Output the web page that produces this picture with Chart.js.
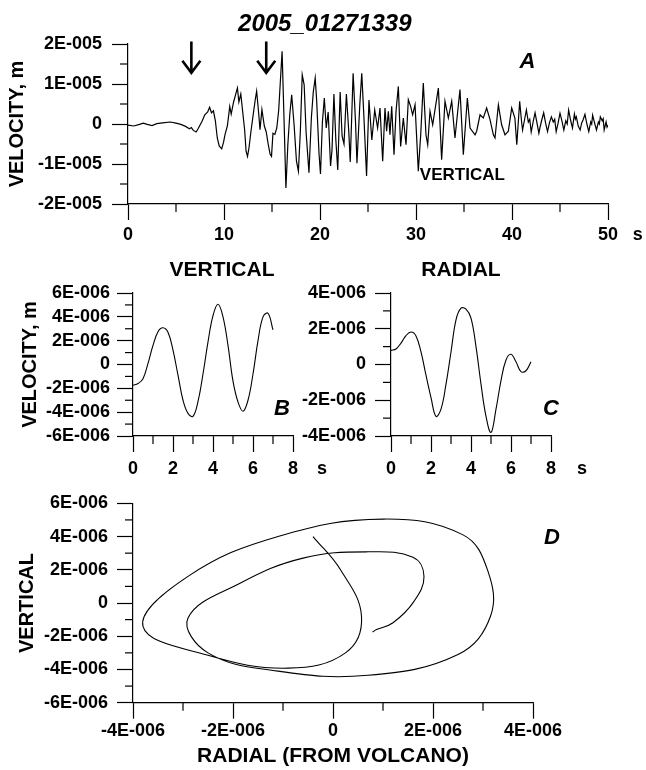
<!DOCTYPE html>
<html>
<head>
<meta charset="utf-8">
<script src="https://cdn.jsdelivr.net/npm/chart.js@4.4.1/dist/chart.umd.min.js"></script>
<style>
  body { margin: 0; background: #fff; }
  #wrap { position: relative; width: 646px; height: 770px; }
  #wrap canvas { position: absolute; left: 0; top: 0; }
</style>
</head>
<body>
<div id="wrap">
  <canvas id="chartA" width="646" height="770"></canvas>
  <canvas id="chartB" width="646" height="770"></canvas>
  <canvas id="chartC" width="646" height="770"></canvas>
  <canvas id="chartD" width="646" height="770"></canvas>
</div>
<script>
// Amplitudes are kept in units of 1E-006 m/s; fmtE() writes the axis labels
const FONT = '"Liberation Sans", Arial, Helvetica, sans-serif';

// A: vertical record, 0-50 s
const timeA = [
  0.0, 0.6, 1.2, 1.6, 2.0, 2.5, 3.0, 3.6, 4.4, 5.0,
  5.5, 6.0, 6.4, 6.6, 6.8, 7.1, 7.3, 7.7, 8.0, 8.3,
  8.5, 8.7, 8.9, 9.1, 9.3, 9.5, 9.76, 9.95, 10.1, 10.35,
  10.6, 10.75, 11.0, 11.2, 11.4, 11.55, 11.75, 11.95, 12.15, 12.3,
  12.45, 12.6, 12.8, 13.05, 13.25, 13.4, 13.6, 13.75, 13.95, 14.2,
  14.4, 14.6, 14.8, 14.95, 15.1, 15.3, 15.5, 15.7, 15.85, 16.05,
  16.25, 16.45, 16.65, 16.85, 17.05, 17.3, 17.55, 17.75, 17.95, 18.15,
  18.35, 18.55, 18.85, 19.1, 19.3, 19.5, 19.65, 19.9, 20.05, 20.25,
  20.45, 20.65, 20.85, 21.1, 21.25, 21.45, 21.65, 21.85, 22.1, 22.3,
  22.5, 22.75, 23.0, 23.15, 23.45, 23.7, 23.85, 24.15, 24.35, 24.55,
  24.85, 25.1, 25.4, 25.7, 26.0, 26.25, 26.53, 26.77, 26.94, 27.12,
  27.29, 27.47, 27.71, 27.92, 28.16, 28.4, 28.68, 28.96, 29.2, 29.44,
  29.65, 29.9, 30.24, 30.49, 30.76, 31.04, 31.22, 31.46, 31.74, 31.98,
  32.33, 32.67, 33.02, 33.37, 33.72, 34.06, 34.58, 34.93, 35.35, 35.63,
  36.15, 36.32, 36.67, 37.01, 37.36, 37.71, 38.06, 38.23, 38.58, 38.92,
  39.27, 39.62, 39.97, 40.3, 40.5, 40.8, 41.0, 41.1, 41.3, 41.5,
  41.7, 41.85, 42.0, 42.2, 42.4, 42.6, 42.8, 42.95, 43.1, 43.3,
  43.5, 43.7, 43.9, 44.1, 44.3, 44.45, 44.6, 44.8, 45.0, 45.2,
  45.4, 45.6, 45.75, 45.9, 46.1, 46.3, 46.5, 46.6, 46.7, 46.9,
  47.1, 47.25, 47.4, 47.6, 47.8, 48.0, 48.2, 48.3, 48.4, 48.6,
  48.8, 49.0, 49.1, 49.2, 49.4, 49.5, 49.6, 49.8, 49.9, 50.0
];
const velA = [
  -0.3, -0.5, -0.1, 0.2, -0.1, -0.4, 0.1, 0.3, 0.5, 0.2,
  -0.1, -0.6, -1.2, -0.9, -1.6, -2.0, -1.2, 0.6, 2.3, 3.0,
  4.2, 2.8, 3.3, 0.8, -3.5, -5.5, -6.2, -4.6, -2.7, -0.5,
  4.4, 2.5, 5.5, 7.3, 9.0, 5.5, 7.5, 3.0, -1.5, -6.8,
  -8.1, -6.0, -2.0, 2.5, 6.0, 8.2, 3.0, -1.4, 3.6, -0.5,
  -2.0, -5.0, -7.5, -8.1, -2.3, -2.6, -1.0, 3.5, 9.8, 18.2,
  1.5, -16.0, -5.2, 2.3, 7.3, -0.2, -9.3, -11.8, -2.0, 12.3,
  9.8, -2.0, -12.2, 1.5, 8.0, 11.5, 6.0, -7.5, -12.5, 0.5,
  6.5, -1.0, 3.0, -10.5, -6.5, 7.5, -4.0, -11.5, 8.0, -3.0,
  -5.0, 7.5, -2.0, -9.5, 12.7, 0.5, -9.8, 5.0, 12.7, 3.0,
  -13.0, 6.0, -4.0, 3.5, -1.0, 4.0, -9.3, 4.0, -1.8, 3.2,
  -2.7, 4.4, -7.7, 3.2, 9.4, -5.6, 1.5, -5.2, 6.1, 4.4,
  2.3, 4.8, -11.8, -2.7, 10.25, -2.7, -5.2, 3.2, -0.2, 3.6,
  9.0, -8.9, 5.7, 1.5, 5.7, -3.5, 8.6, -7.7, 6.5, -1.0,
  -2.7, -1.8, 2.3, 1.5, 4.0, 1.1, -2.7, -3.5, 4.8, -0.2,
  -2.7, -1.8, 4.0, 1.5, -5.2, 5.7, 0.5, -1.5, 1.0, 3.5,
  0.5, 1.2, -2.0, 0.5, 2.8, 0.3, -2.3, -0.5, 1.0, 2.8,
  0.2, -1.9, 0.3, 1.8, 0.5, 1.2, -1.9, 0.2, 2.7, 0.8,
  -1.5, 0.8, 0.0, 3.5, 1.0, -1.0, 2.5, 1.2, 1.8, -0.5,
  -1.5, 0.2, 1.0, 2.4, 0.0, -1.9, 0.5, 0.0, 2.2, 0.3,
  -1.5, 0.5, 0.0, 1.8, 0.8, 1.3, -1.5, 0.5, -0.8, -0.3
];
const arrowTimes = [6.6, 14.4];

// B and C: 7 s window, every 0.25 s
const timeBC = [
  0, 0.25, 0.5, 0.75, 1.0, 1.25, 1.5, 1.75, 2.0, 2.25,
  2.5, 2.75, 3.0, 3.25, 3.5, 3.75, 4.0, 4.25, 4.5, 4.75,
  5.0, 5.25, 5.5, 5.75, 6.0, 6.25, 6.5, 6.75, 7.0
];
const vertB = [
  -1.75, -1.6, -1.19, 0.1, 1.6, 2.75, 3.08, 2.7, 1.2, -0.9,
  -3.0, -4.1, -4.35, -3.1, -0.8, 1.9, 4.1, 5.05, 4.0, 1.6,
  -1.4, -3.15, -3.92, -3.0, -0.8, 2.0, 4.0, 4.3, 2.9
];
const radC = [
  0.79, 0.87, 1.2, 1.62, 1.82, 1.6, 0.7, -0.6, -1.85, -2.9,
  -2.5, -1.1, 0.7, 2.5, 3.15, 3.1, 2.6, 1.0, -1.1, -2.9,
  -3.8, -2.5, -0.9, 0.25, 0.57, 0.15, -0.4, -0.35, 0.15
];
// D: particle motion uses B and C up to this time
const motionEnd = 6.5;

function fmtE(v) {
  if (Math.abs(v) < 1e-9) return '0';
  const p = Math.floor(Math.log10(Math.abs(v)) + 1e-9);
  const mant = Math.round(v / Math.pow(10, p));
  return mant + 'E-' + String(6 - p).padStart(3, '0');
}

function pts(xs, ys) {
  return xs.map((x, i) => ({ x: x, y: ys[i] }));
}

// minor ticks, arrows and free labels
const decor = {
  id: 'decor',
  afterDraw(chart, args, opts) {
    const ctx = chart.ctx;
    const xs = chart.scales.x, ys = chart.scales.y;
    const area = chart.chartArea;
    ctx.save();
    ctx.strokeStyle = '#000';
    ctx.fillStyle = '#000';
    ctx.lineWidth = 1.2;

    const isMajor = (v, step) => Math.abs(v / step - Math.round(v / step)) < 1e-6;
    if (opts.minorX) {
      for (let v = xs.min; v <= xs.max + 1e-9; v += opts.minorX) {
        if (isMajor(v, xs.options.ticks.stepSize)) continue;
        const px = xs.getPixelForValue(v);
        ctx.beginPath(); ctx.moveTo(px, area.bottom); ctx.lineTo(px, area.bottom + 8); ctx.stroke();
      }
    }
    if (opts.minorY) {
      for (let v = ys.min; v <= ys.max + 1e-9; v += opts.minorY) {
        if (isMajor(v, ys.options.ticks.stepSize)) continue;
        const py = ys.getPixelForValue(v);
        ctx.beginPath(); ctx.moveTo(area.left - 8, py); ctx.lineTo(area.left, py); ctx.stroke();
      }
    }

    (opts.arrows || []).forEach(t => {
      const px = xs.getPixelForValue(t);
      const top = ys.getPixelForValue(opts.arrowFrom);
      const tip = ys.getPixelForValue(opts.arrowTo);
      ctx.lineWidth = 2.6;
      ctx.beginPath();
      ctx.moveTo(px, top); ctx.lineTo(px, tip);
      ctx.moveTo(px - 9, tip - 12); ctx.lineTo(px, tip); ctx.lineTo(px + 9, tip - 12);
      ctx.stroke();
    });

    (opts.texts || []).forEach(t => {
      ctx.font = t.font;
      ctx.textAlign = t.align || 'center';
      ctx.textBaseline = 'middle';
      ctx.fillText(t.text, xs.getPixelForValue(t.x), ys.getPixelForValue(t.y));
    });
    ctx.restore();
  }
};

function axis(pos, min, max, step, size, pad, title, titleFont) {
  return {
    type: 'linear',
    position: pos,
    min: min,
    max: max,
    afterFit: s => { if (pos === 'left') s.width = size; else s.height = size; },
    ticks: {
      stepSize: step,
      autoSkip: false,
      maxRotation: 0,
      padding: pad,
      color: '#000',
      font: { family: FONT, size: 18, weight: 'bold' },
      callback: v => (pos === 'left' || title === 'RADIAL (FROM VOLCANO)') ? fmtE(v) : String(v)
    },
    grid: { drawOnChartArea: false, tickLength: 16, tickColor: '#000', tickWidth: 1.2 },
    border: { color: '#000', width: 1.2 },
    title: {
      display: !!title,
      text: title || '',
      color: '#000',
      padding: 0,
      font: { family: FONT, size: titleFont || 20, weight: 'bold' }
    }
  };
}

function makeChart(id, datasets, scales, padding, decorOpts) {
  return new Chart(document.getElementById(id), {
    type: 'line',
    data: { datasets: datasets },
    options: {
      responsive: false,
      animation: false,
      events: [],
      layout: { padding: padding },
      scales: scales,
      plugins: { legend: { display: false }, tooltip: { enabled: false }, decor: decorOpts }
    },
    plugins: [decor]
  });
}

const BI = 'italic bold 22px ' + FONT;

makeChart('chartA',
  [{ data: pts(timeA, velA), borderColor: '#000', borderWidth: 1.2, pointRadius: 0, tension: 0, fill: false }],
  {
    x: axis('bottom', 0, 50, 10, 40, 4),
    y: axis('left', -20, 20, 10, 123, 10, 'VELOCITY, m')
  },
  { left: 5, top: 44, right: 38, bottom: 526 },
  {
    minorX: 5, minorY: 5,
    arrows: arrowTimes, arrowFrom: 20.6, arrowTo: 12.8,
    texts: [
      { text: '2005_01271339', x: 20.5, y: 25.0, font: 'italic bold 24px ' + FONT },
      { text: 'A', x: 41.6, y: 15.6, font: BI },
      { text: 'VERTICAL', x: 30.4, y: -12.9, font: 'bold 17px ' + FONT, align: 'left' },
      { text: 's', x: 53.1, y: -27.7, font: 'bold 18px ' + FONT }
    ]
  });

makeChart('chartB',
  [{ data: pts(timeBC, vertB), borderColor: '#000', borderWidth: 1.1, pointRadius: 0, tension: 0.4, fill: false }],
  {
    x: axis('bottom', 0, 8, 2, 45, 6),
    y: axis('left', -6, 6, 2, 115, 7, 'VELOCITY, m')
  },
  { left: 18, top: 293, right: 353, bottom: 289 },
  {
    minorX: 1, minorY: 1,
    texts: [
      { text: 'VERTICAL', x: 4.45, y: 7.93, font: 'bold 21px ' + FONT },
      { text: 'B', x: 7.45, y: -3.7, font: BI },
      { text: 's', x: 9.45, y: -8.77, font: 'bold 18px ' + FONT }
    ]
  });

makeChart('chartC',
  [{ data: pts(timeBC, radC), borderColor: '#000', borderWidth: 1.1, pointRadius: 0, tension: 0.4, fill: false }],
  {
    x: axis('bottom', 0, 8, 2, 45, 6),
    y: axis('left', -4, 4, 2, 101, 9)
  },
  { left: 290, top: 293, right: 95, bottom: 289 },
  {
    minorX: 1, minorY: 1,
    texts: [
      { text: 'RADIAL', x: 3.5, y: 5.28, font: 'bold 21px ' + FONT },
      { text: 'C', x: 8.0, y: -2.5, font: BI },
      { text: 's', x: 9.55, y: -5.84, font: 'bold 18px ' + FONT }
    ]
  });

// particle motion: radial on x, vertical on y
const nMotion = timeBC.filter(t => t <= motionEnd).length;
makeChart('chartD',
  [{ data: pts(radC.slice(0, nMotion), vertB.slice(0, nMotion)), borderColor: '#000', borderWidth: 1.1, pointRadius: 0, tension: 0.4, fill: false }],
  {
    x: axis('bottom', -4, 4, 2, 66, 2, 'RADIAL (FROM VOLCANO)', 21),
    y: axis('left', -6, 6, 2, 118, 9, 'VERTICAL')
  },
  { left: 15, top: 503.3, right: 113, bottom: 1.3 },
  {
    minorX: 1, minorY: 1,
    texts: [
      { text: 'D', x: 4.38, y: 3.9, font: BI }
    ]
  });
</script>
</body>
</html>
